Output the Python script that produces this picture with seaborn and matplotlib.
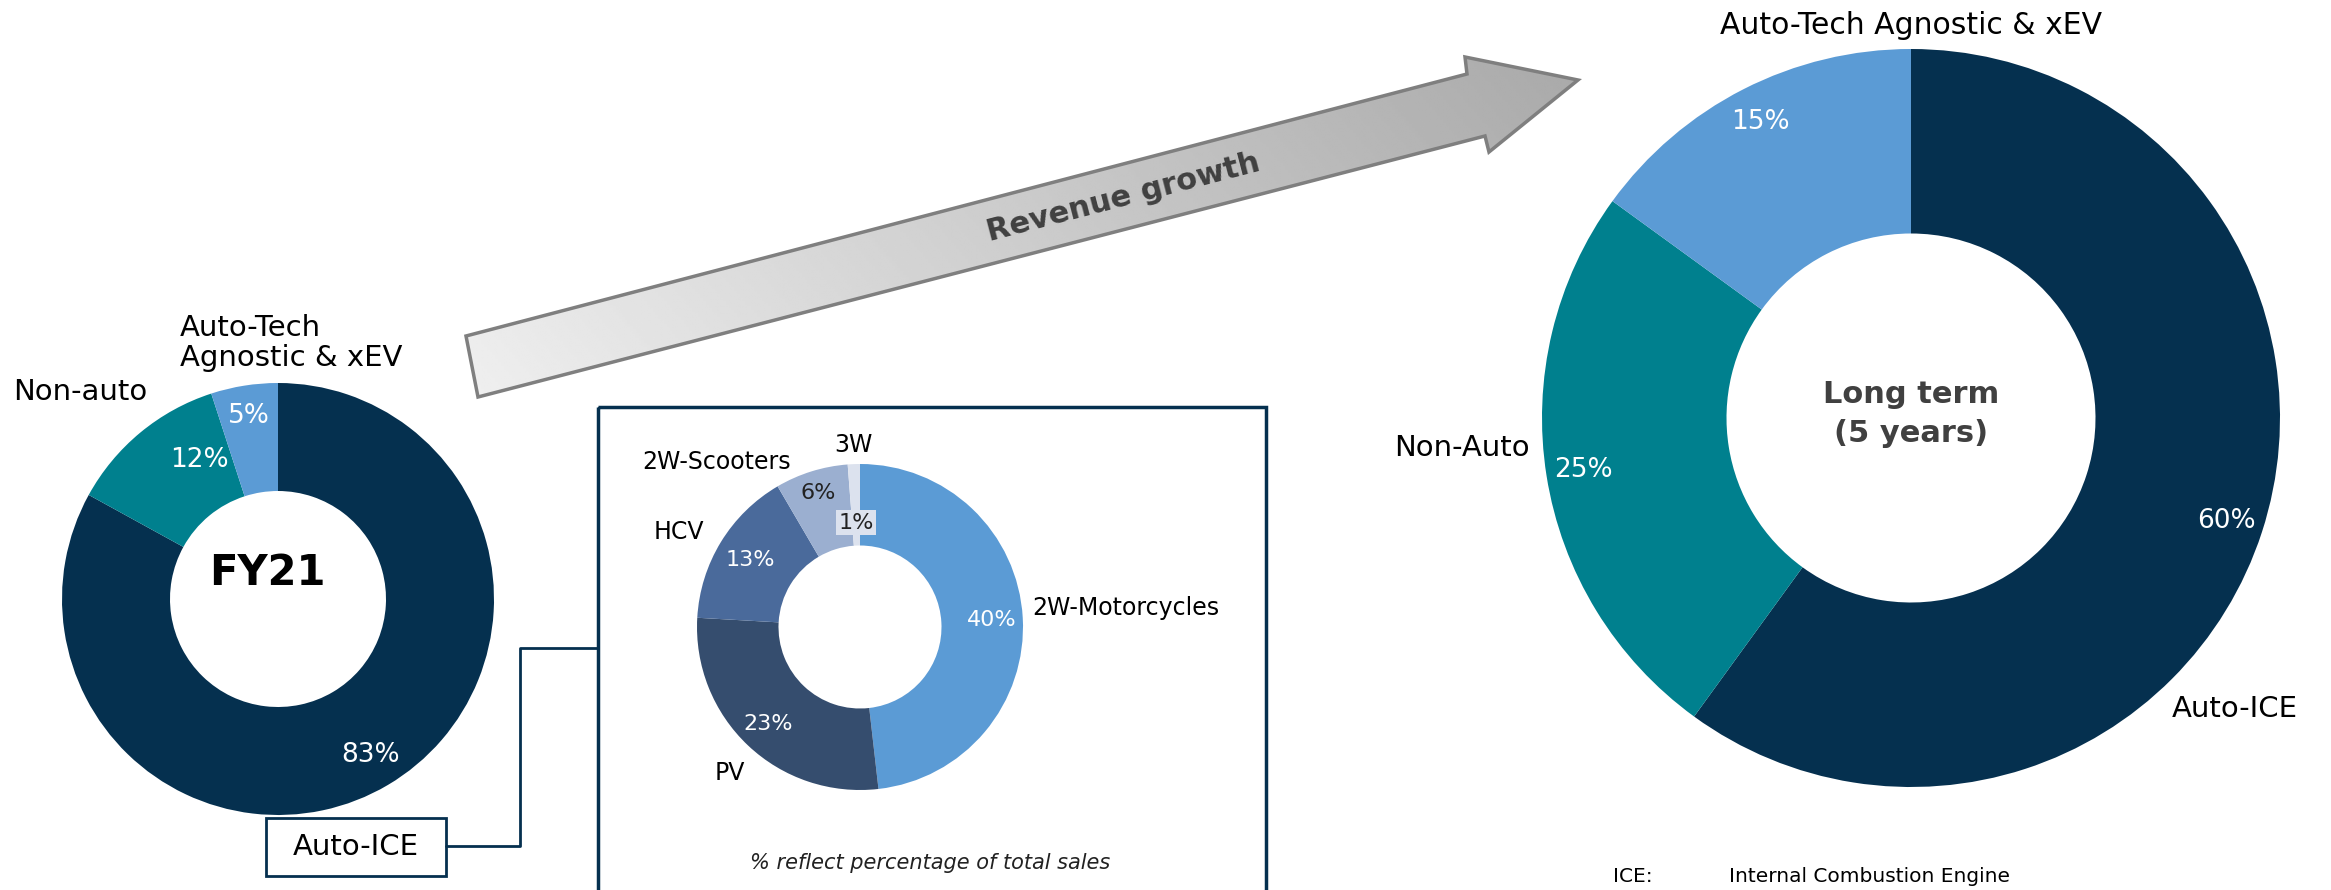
import numpy as np
import matplotlib
matplotlib.use("Agg")
import matplotlib.pyplot as plt
import seaborn as sns
from matplotlib.patches import Polygon, Rectangle

# ---------------- data ----------------
fy21_labels = ["Auto-ICE", "Non-auto", "Auto-Tech\nAgnostic & xEV"]
fy21_values = [83, 12, 5]

lt_labels = ["Auto-ICE", "Non-Auto", "Auto-Tech Agnostic & xEV"]
lt_values = [60, 25, 15]

ice_labels = ["2W-Motorcycles", "PV", "HCV", "2W-Scooters", "3W"]
ice_values = [40, 23, 13, 6, 1]

# ---------------- style ----------------
sns.set_theme(style="white")
plt.rcParams["font.family"] = ["DejaVu Sans"]

NAVY = "#05304f"
TEAL = "#00808e"
LBLUE = "#5b9bd5"
seg_colors = [NAVY, TEAL, LBLUE]
ice_colors = ["#5b9bd5", "#354d6e", "#4a6a9b", "#9bafd0", "#dce2ee"]

W, H = 2331, 890
DPI = 100
fig = plt.figure(figsize=(W / DPI, H / DPI), dpi=DPI)
fig.patch.set_facecolor("white")

# overlay axes in pixel coordinates (for arrow, boxes, connectors, notes)
ov = fig.add_axes([0, 0, 1, 1], zorder=0)
ov.set_xlim(0, W)
ov.set_ylim(H, 0)
ov.axis("off")


def donut_axes(cx, cy, r):
    ax = fig.add_axes([(cx - r) / W, (H - cy - r) / H, 2 * r / W, 2 * r / H], zorder=2)
    ax.axis("off")
    ax.patch.set_alpha(0)
    return ax


def fix_limits(ax):
    ax.set_xlim(-1, 1)
    ax.set_ylim(-1, 1)
    ax.set_aspect("equal")
    ax.axis("off")


def polar(ax, ang, r, s, **kw):
    a = np.deg2rad(ang)
    ax.text(r * np.cos(a), r * np.sin(a), s, **kw)


def mid(w):
    return (w.theta1 + w.theta2) / 2


# ---------------- FY21 donut ----------------
ax1 = donut_axes(278, 599, 216)
w1, _ = ax1.pie(fy21_values, colors=seg_colors, startangle=90, counterclock=False,
                radius=1, wedgeprops=dict(width=0.5, edgecolor="none"))
fix_limits(ax1)
pct_tweak1 = [(0.84, 0), (0.74, -10), (0.86, 0)]
for w, v, (r, dt) in zip(w1, fy21_values, pct_tweak1):
    polar(ax1, mid(w) + dt, r, f"{v}%", color="white", fontsize=19, ha="center", va="center")
ax1.text(-0.05, 0.12, "FY21", fontsize=30, fontweight="bold", color="black",
         ha="center", va="center")
ov.text(13, 392, fy21_labels[1], fontsize=21, color="black", ha="left", va="center")
ov.text(180, 343, fy21_labels[2], fontsize=21, color="black", ha="left",
        va="center", linespacing=1.05)

# Auto-ICE box + connector
ov.add_patch(Rectangle((266, 818), 180, 58, fill=False, edgecolor=NAVY, lw=2, zorder=3))
ov.text(356, 847, fy21_labels[0], fontsize=21, ha="center", va="center", color="black")
ov.plot([446, 520, 520, 598], [846, 846, 648, 648], color=NAVY, lw=2, zorder=3)

# box around ICE donut
ov.add_patch(Rectangle((598, 407), 668, 520, fill=False, edgecolor=NAVY, lw=2.5, zorder=3))

# ---------------- Auto-ICE breakdown donut ----------------
ax2 = donut_axes(860, 627, 163)
w2, _ = ax2.pie(ice_values, colors=ice_colors, startangle=90, counterclock=False,
                radius=1, wedgeprops=dict(width=0.5, edgecolor="none"))
fix_limits(ax2)
pct_r2 = [0.81, 0.82, 0.79, 0.86, 0.64]
pct_col2 = ["white", "white", "white", "#222222", "#222222"]
for i, (w, v, r, c) in enumerate(zip(w2, ice_values, pct_r2, pct_col2)):
    kw = dict(color=c, fontsize=16, ha="center", va="center")
    if i == 4:
        kw["bbox"] = dict(boxstyle="square,pad=0.12", fc=ice_colors[4], ec="none")
    polar(ax2, mid(w), r, f"{v}%", **kw)
# category labels
ov.text(1032, 608, ice_labels[0], fontsize=17, ha="left", va="center", color="black")
ov.text(730, 773, ice_labels[1], fontsize=17, ha="center", va="center", color="black")
ov.text(679, 532, ice_labels[2], fontsize=17, ha="center", va="center", color="black")
ov.text(791, 462, ice_labels[3], fontsize=17, ha="right", va="center", color="black")
ov.text(853, 445, ice_labels[4], fontsize=17, ha="center", va="center", color="black")
ov.text(930, 863, "% reflect percentage of total sales", fontsize=15, style="italic",
        ha="center", va="center", color="#222222")

# ---------------- Long-term donut ----------------
ax3 = donut_axes(1911, 418, 369)
w3, _ = ax3.pie(lt_values, colors=seg_colors, startangle=90, counterclock=False,
                radius=1, wedgeprops=dict(width=0.5, edgecolor="none"))
fix_limits(ax3)
for w, v in zip(w3, lt_values):
    polar(ax3, mid(w), 0.9, f"{v}%", color="white", fontsize=19, ha="center", va="center")
ax3.text(0.0, 0.01, "Long term\n(5 years)", fontsize=22, fontweight="bold",
         color="#404040", ha="center", va="center", linespacing=1.45)
ov.text(2172, 709, lt_labels[0], fontsize=21, ha="left", va="center", color="black")
ov.text(1530, 448, lt_labels[1], fontsize=21, ha="right", va="center", color="black")
ov.text(1911, 26, lt_labels[2], fontsize=21.5, ha="center", va="center", color="black")

# ICE footnote
ov.text(1613, 877, "ICE:", fontsize=14.5, ha="left", va="center", color="black")
ov.text(1729, 877, "Internal Combustion Engine", fontsize=14.5, ha="left", va="center",
        color="black")

# ---------------- Revenue growth arrow ----------------
arrow_pts = np.array([
    [466, 336], [1467, 74], [1465, 57], [1578, 80],
    [1489, 152], [1485, 136], [478, 397]
])
poly = Polygon(arrow_pts, closed=True, facecolor="none", edgecolor="#7f7f7f",
               lw=2.5, zorder=4, joinstyle="miter")
ov.add_patch(poly)
# gradient: light at tail, darker at head, and lighter toward lower edge
xx, yy = np.meshgrid(np.linspace(0, 1, 400), np.linspace(0, 1, 200))
grad = 0.88 - 0.22 * xx + 0.06 * yy
img = ov.imshow(grad, cmap="gray", vmin=0, vmax=1, extent=(460, 1585, 400, 50),
                origin="upper", zorder=3, interpolation="bilinear", aspect="auto")
img.set_clip_path(Polygon(arrow_pts, closed=True, transform=ov.transData))
ov.set_xlim(0, W)
ov.set_ylim(H, 0)
ov.text(1123, 198, "Revenue growth", fontsize=22, fontweight="bold", color="#404040",
        rotation=14.6, rotation_mode="anchor", ha="center", va="center", zorder=5)

fig.savefig("out.png", dpi=DPI, facecolor="white")
